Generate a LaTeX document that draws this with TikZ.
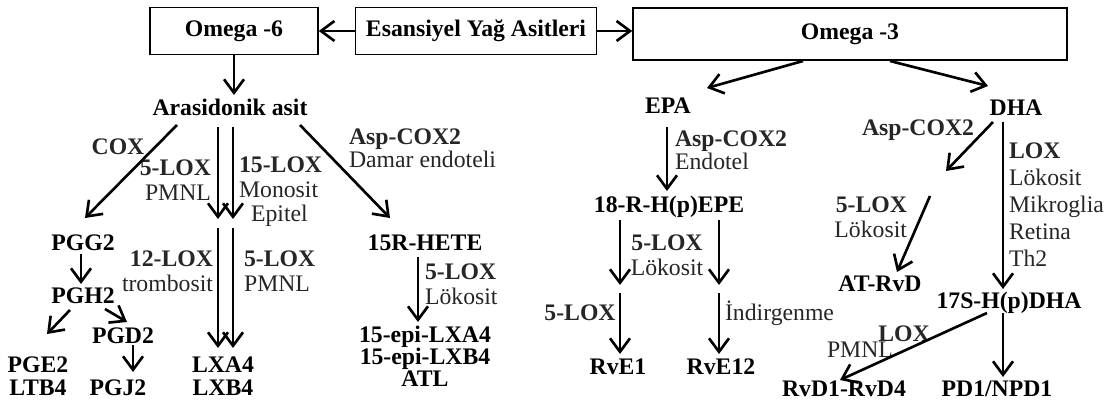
\documentclass[tikz,border=0pt]{standalone}
\usepackage{fontspec}
\setmainfont{Liberation Serif}
\usetikzlibrary{arrows.meta,calc}

\begin{document}
\begin{tikzpicture}[
  x=0.02cm, y=-0.02cm,
  kutu/.style={draw, line width=0.9pt, minimum height=0.94cm,
               font=\fontsize{13.5}{14}\selectfont\bfseries},
  madde/.style={font=\fontsize{13.5}{13}\selectfont\bfseries, align=center, inner sep=1pt},
  enzim/.style={font=\fontsize{13.5}{14}\selectfont, text=black!85, inner sep=1pt},
  >={Straight Barb[length=2.7mm, width=4mm]}, line width=1.5pt
]
  \useasboundingbox (0,0) rectangle (1109,405);

  \node[kutu, minimum width=3.36cm] (om6) at (234,31) {Omega -6};
  \node[kutu, minimum width=4.82cm] (esa) at (476,31) {Esansiyel Yağ Asitleri};
  \node[kutu, minimum width=8.68cm, minimum height=1.04cm] (om3) at (850,34) {Omega -3};

  % omega-6 kolu
  \node[madde] (aa) at (230,107) {Arasidonik asit};
  \node[madde] (pgg2) at (83,243) {PGG2};
  \node[madde] (pgh2) at (83,296) {PGH2};
  \node[madde] (pgd2) at (123,336) {PGD2};
  \node[madde] (pge2) at (38,376) {PGE2\\LTB4};
  \node[madde] (pgj2) at (118,388) {PGJ2};
  \node[madde] (lx) at (223,376) {LXA4\\LXB4};
  \node[madde] (hete) at (425,243) {15R-HETE};
  \node[madde, font=\fontsize{13.5}{12.5}\selectfont\bfseries] (epi) at (425,356) {15-epi-LXA4\\15-epi-LXB4\\ATL};

  % omega-3 kolu
  \node[madde] (epa) at (668,106) {EPA};
  \node[madde] (hepe) at (669,207) {18-R-H(p)EPE};
  \node[madde] (rve1) at (618,367) {RvE1};
  \node[madde] (rve12) at (721,367) {RvE12};
  \node[madde] (dha) at (1016,108) {DHA};
  \node[madde] (atrvd) at (880,284) {AT-RvD};
  \node[madde] (hdha) at (1009,303) {17S-H(p)DHA};
  \node[madde] (rvd) at (844,389) {RvD1-RvD4};
  \node[madde] (pd1) at (997,389) {PD1/NPD1};

  % enzim etiketleri
  \node[enzim] (cox) at (118,147) {\textbf{COX}};
  \node[enzim, align=right, anchor=east] (lox5a) at (214,180) {\textbf{5-LOX}\\PMNL};
  \node[enzim, align=left, anchor=west] (lox15) at (236,192) {\textbf{15-LOX}\\Monosit\\\hspace*{2.4mm}Epitel};
  \node[enzim, align=right, anchor=east] (lox12) at (216,271) {\textbf{12-LOX}\\trombosit};
  \node[enzim, align=left, anchor=west] (lox5b) at (241,271) {\textbf{5-LOX}\\PMNL};
  \node[enzim, align=left, anchor=west, font=\fontsize{13.5}{11.5}\selectfont] (asp1) at (346,148) {\textbf{Asp-COX2}\\Damar endoteli};
  \node[enzim, align=left, anchor=west] (lox5c) at (422,284) {\textbf{5-LOX}\\Lökosit};
  \node[enzim, align=left, anchor=west, font=\fontsize{13.5}{12}\selectfont] (asp2) at (672,150) {\textbf{Asp-COX2}\\Endotel};
  \node[enzim, align=center] (lox5d) at (667,255) {\textbf{5-LOX}\\Lökosit};
  \node[enzim] (lox5e) at (580,313) {\textbf{5-LOX}};
  \node[enzim, anchor=west] (indir) at (722,313) {İndirgenme};
  \node[enzim] (asp3) at (918,130) {\textbf{Asp-COX2}};
  \node[enzim, align=right, anchor=east] (lox5f) at (910,217) {\textbf{5-LOX}\\Lökosit};
  \node[enzim, align=left, anchor=west, font=\fontsize{13.5}{15.4}\selectfont] (loxg) at (1006,205)
    {\textbf{LOX}\\Lökosit\\Mikroglia\\Retina\\Th2};
  \node[enzim] (loxh) at (904,334) {\textbf{LOX}};
  \node[enzim] (pmnl) at (860,350) {PMNL};

  % ara basamaklar
  \coordinate (ara1) at (218,219);
  \coordinate (ara2) at (233,219);
  \coordinate (epe1) at (620,285);
  \coordinate (epe2) at (719,285);
  \coordinate (dha1) at (946,171);
  \coordinate (dha2) at (930,196);

  \draw[->] (esa) -- (om6);
  \draw[->] (esa.east) -- (esa.east -| om3.west);
  \draw[->] (om6.south) -- ($(aa)+(4,-12)$);

  \draw[->] ($(aa)+(-53,18)$) -- ($(pgg2)+(2,-25)$);
  \draw[->] ($(aa)+(-12,20)$) -- (ara1);
  \draw[->] ($(aa)+(3,20)$) -- (ara2);
  \draw[->] ($(ara1)+(0,9)$) -- ($(lx)+(-5,-28)$);
  \draw[->] ($(ara2)+(0,9)$) -- ($(lx)+(10,-28)$);
  \draw[->] ($(aa)+(70,18)$) -- ($(hete)+(-35,-25)$);

  \draw[->] ($(pgg2)+(-2,11)$) -- ($(pgh2)+(-2,-12)$);
  \draw[->] ($(pgh2)+(-13,14)$) -- ($(pge2)+(9,-42)$);
  \draw[->] ($(pgh2)+(22,13)$) -- ($(pgd2)+(4,-14)$);
  \draw[->] ($(pgd2)+(10,9)$) -- ($(pgj2)+(15,-16)$);
  \draw[->] ($(hete)+(-7,14)$) -- ($(epi)+(-7,-34)$);

  \draw[->] ($(om3)+(-47,27)$) -- ($(epa)+(39,-18)$);
  \draw[->] ($(om3)+(40,27)$) -- ($(dha)+(-28,-22)$);
  \draw[->] ($(epa)+(-1,21)$) -- ($(hepe)+(-2,-16)$);
  \draw[->] ($(hepe)+(-49,13)$) -- (epe1);
  \draw[->] ($(hepe)+(50,13)$) -- (epe2);
  \draw[->] ($(epe1)+(0,8)$) -- ($(rve1)+(2,-13)$);
  \draw[->] ($(epe2)+(0,8)$) -- ($(rve12)+(-2,-13)$);

  \draw[->] ($(dha)+(-23,14)$) -- (dha1);
  \draw[->] (dha2) -- ($(atrvd)+(17,-12)$);
  \draw[->] ($(dha)+(-13,14)$) -- ($(hdha)+(-6,-14)$);
  \draw[->] ($(hdha)+(-22,10)$) -- ($(rvd)+(-4,-9)$);
  \draw[->] ($(hdha)+(-6,10)$) -- ($(pd1)+(6,-12)$);
\end{tikzpicture}
\end{document}
